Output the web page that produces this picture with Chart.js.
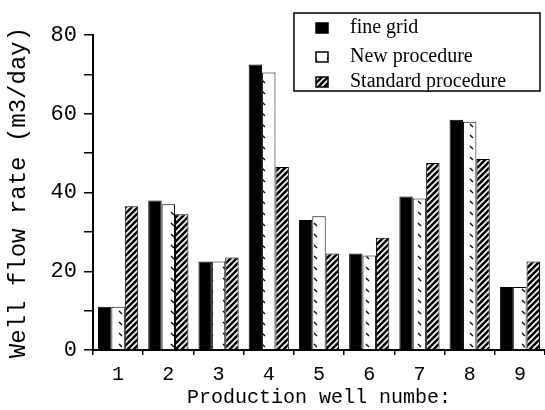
<!DOCTYPE html>
<html>
<head>
<meta charset="utf-8">
<script src="https://cdn.jsdelivr.net/npm/chart.js@4"></script>
<style>
  body { margin: 0; background: #fff; }
</style>
</head>
<body>
<canvas id="wellChart" width="545" height="410"></canvas>
<script>
// Daten
const wells = ["1", "2", "3", "4", "5", "6", "7", "8", "9"];
const fineGrid = [11, 38, 22.5, 72.5, 33, 24.5, 39, 58.5, 16];
const newProcedure = [11, 37, 22.5, 70.5, 34, 24, 38.5, 58, 16];
const standardProcedure = [36.5, 34.5, 23.5, 46.5, 24.5, 28.5, 47.5, 48.5, 22.5];
const seriesLabels = ["fine grid", "New procedure", "Standard procedure"];
const yMin = 0, yMax = 80, yStep = 10, yLabelEvery = 20;

// Schraffur-Muster
function hatchPattern() {
    const c = document.createElement("canvas");
    c.width = 6; c.height = 6;
    const g = c.getContext("2d");
    g.fillStyle = "#000";
    g.fillRect(0, 0, 6, 6);
    g.strokeStyle = "#fff";
    g.lineWidth = 1.6;
    g.beginPath();
    g.moveTo(-1, 7); g.lineTo(7, -1);
    g.moveTo(-4, 4); g.lineTo(4, -4);
    g.moveTo(2, 10); g.lineTo(10, 2);
    g.stroke();
    return g.createPattern(c, "repeat");
}
function dotPattern() {
    const c = document.createElement("canvas");
    c.width = 13; c.height = 11;
    const g = c.getContext("2d");
    g.fillStyle = "#fff";
    g.fillRect(0, 0, 13, 11);
    g.strokeStyle = "#000";
    g.lineWidth = 1.2;
    g.beginPath();
    g.moveTo(2, 3); g.lineTo(5, 6);
    g.stroke();
    return g.createPattern(c, "repeat");
}

// Legende mit Rahmen
const boxLegend = {
    id: "boxLegend",
    afterDraw(chart) {
        const ctx = chart.ctx;
        ctx.save();
        ctx.strokeStyle = "#000";
        ctx.lineWidth = 1.5;
        ctx.strokeRect(294, 13, 246, 78);
        const rows = [28, 57, 82];
        ctx.font = "20px 'Liberation Serif', serif";
        ctx.textBaseline = "middle";
        chart.data.datasets.forEach((ds, i) => {
            ctx.fillStyle = ds.backgroundColor;
            ctx.fillRect(316, rows[i] - 5, 12, 10);
            ctx.lineWidth = 1.5;
            ctx.strokeRect(316, rows[i] - 5, 12, 10);
            ctx.fillStyle = "#000";
            ctx.fillText(ds.label, 350, rows[i]);
        });
        ctx.restore();
    }
};

const ctx = document.getElementById("wellChart").getContext("2d");
new Chart(ctx, {
    type: "bar",
    data: {
        labels: wells,
        datasets: [
            { label: seriesLabels[0], data: fineGrid, backgroundColor: "#000" },
            { label: seriesLabels[1], data: newProcedure, backgroundColor: dotPattern() },
            { label: seriesLabels[2], data: standardProcedure, backgroundColor: hatchPattern() }
        ]
    },
    options: {
        responsive: false,
        animation: false,
        layout: { padding: { top: 35, right: 0, left: 0, bottom: 0 } },
        datasets: {
            bar: {
                borderColor: "#000",
                borderWidth: 1,
                barPercentage: 1.0,
                categoryPercentage: 0.8
            }
        },
        plugins: {
            legend: { display: false },
            tooltip: { enabled: false }
        },
        scales: {
            x: {
                afterFit: (s) => { s.height = 60; },
                grid: { drawOnChartArea: false, drawTicks: true, tickLength: 5, color: "#000", lineWidth: 1.5 },
                border: { display: true, color: "#000", width: 2 },
                ticks: { color: "#000", padding: 8, font: { family: "'Liberation Mono', monospace", size: 20 } },
                title: {
                    display: true,
                    text: "Production well numbe:",
                    color: "#000",
                    padding: { top: 0, bottom: 0 },
                    font: { family: "'Liberation Mono', monospace", size: 20, weight: "normal" }
                }
            },
            y: {
                min: yMin,
                max: yMax,
                afterFit: (s) => { s.width = 93; },
                grid: { drawOnChartArea: false, drawTicks: true, tickLength: 9, color: "#000", lineWidth: 1.5 },
                border: { display: true, color: "#000", width: 2 },
                ticks: {
                    stepSize: yStep,
                    color: "#000",
                    padding: 7,
                    font: { family: "'Liberation Mono', monospace", size: 22 },
                    callback: (v) => (v % yLabelEvery === 0 ? v : "")
                },
                title: {
                    display: true,
                    text: "Well flow rate (m3/day)",
                    color: "#000",
                    padding: { top: 4, bottom: 0 },
                    font: { family: "'Liberation Mono', monospace", size: 24, weight: "normal" }
                }
            }
        }
    },
    plugins: [boxLegend]
});
</script>
</body>
</html>
